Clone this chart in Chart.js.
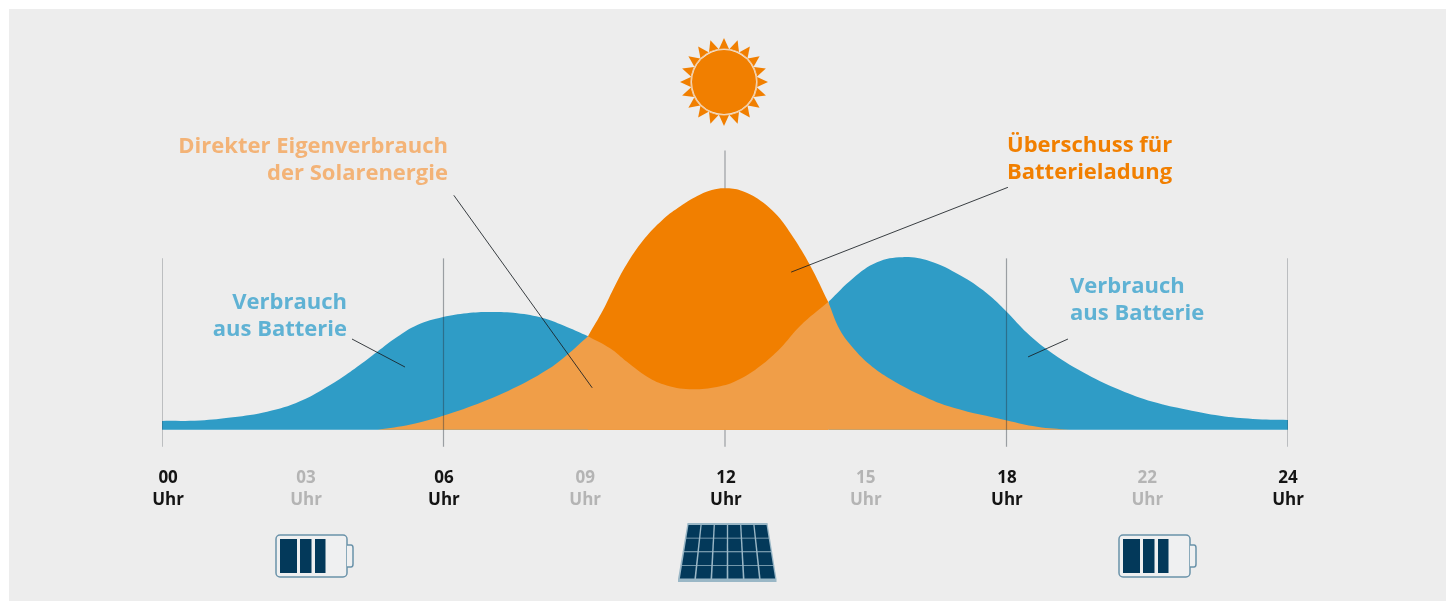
<!DOCTYPE html>
<html lang="de">
<head>
<meta charset="utf-8">
<title>Solarenergie und Batterie im Tagesverlauf</title>
<script src="https://cdn.jsdelivr.net/npm/chart.js@4/dist/chart.umd.min.js"></script>
<style>
  html, body { margin: 0; padding: 0; background: #ffffff; overflow: hidden; }
  #wrap { position: relative; width: 1452px; height: 602px; }
  #panel { position: absolute; left: 9px; top: 9px; width: 1437px; height: 592px; background: #ededed; }
  canvas { position: absolute; left: 0; top: 0; }
</style>
</head>
<body>
<div id="wrap">
  <div id="panel"></div>
  <canvas id="chart" width="1452" height="602"></canvas>
</div>
<script>
// Hour of day against relative power (100 = midday solar peak).
const morningHours  = [0, 0.81, 1.51, 2.24, 2.94, 3.79, 4.22, 4.58, 5.01, 5.44, 5.99, 6.5, 6.99, 7.57, 8.12, 8.63, 9.08];
const morningValues = [3.7, 3.9, 5.2, 7.5, 11.8, 21.1, 26.9, 32.2, 38.4, 43.4, 46.7, 48.3, 48.8, 48.3, 46.3, 42.6, 38.8];

const eveningHours  = [14.2, 14.73, 15.24, 15.79, 16.37, 17.01, 17.58, 18.01, 18.44, 18.99, 19.72, 20.42, 21.12, 21.85, 22.55, 23.25, 24];
const eveningValues = [52.9, 62.8, 69.4, 71.5, 69.8, 64, 56.6, 48.8, 40.1, 31.5, 22.9, 16.5, 11.6, 8.3, 5.8, 4.5, 4.1];

const surplusHours  = [9.08, 9.4, 9.66, 9.93, 10.29, 10.66, 11, 11.36, 11.72, 12.04, 12.38, 12.75, 13.11, 13.45, 13.81, 14.2];
const surplusValues = [38.8, 49.6, 59.9, 69.4, 79.3, 86.8, 91.9, 96.3, 99.3, 100, 98.8, 95, 88.8, 79.8, 68.2, 52.9];

// The peaks at 9.08 h and 14.2 h are listed twice so the curve keeps its sharp corners there.
const directHours  = [4.6, 5.3, 5.99, 6.84, 7.57, 8.27, 8.63, 9.08, 9.08, 9.55, 9.91, 10.34, 10.76, 11.32, 11.9, 12.32, 12.75, 13.18, 13.6, 14.2, 14.2, 14.45, 14.73, 15.09, 15.45, 16.17, 16.87, 18.01, 18.65, 19.35];
const directValues = [0, 2.2, 5.8, 11.6, 17.9, 25.6, 31, 38.8, 38.8, 33.8, 28.2, 22, 18.4, 16.8, 18, 21, 26.4, 33.8, 43, 52.9, 52.9, 41.3, 33.9, 26.9, 21.9, 14.4, 9.1, 3.9, 1.3, 0];

// Hour markers: the line drops slightly below the baseline and rises to markerTops.
const markerHours  = [0, 6, 12, 18, 24];
const markerTops   = [71, 71, 115.7, 71, 71];
const markerBottom = -7;

// Callout leader lines as [hour, value] pairs.
const leaderDirect  = [[6.22, 97.1], [9.17, 17.4]];
const leaderSurplus = [[18.03, 100.4], [13.41, 65.3]];
const leaderMorning = [[4.05, 37.6], [5.18, 26]];
const leaderEvening = [[19.31, 37.6], [18.46, 30.2]];

// Axis labels: text, weight and where each sits on the hour scale.
const tickHours     = ['00', '03', '06', '09', '12', '15', '18', '22', '24'];
const tickPositions = [0.13, 3.07, 6.01, 9.02, 12.02, 15, 18.01, 21, 24];
const tickUnit      = 'Uhr';
const tickStrong    = [true, false, true, false, true, false, true, false, true];

const BLUE = '#2f9cc6', ORANGE = '#f17f00', LIGHT = '#f09e48', NAVY = '#03395a';

const zip = (xs, ys) => xs.map((x, i) => ({ x, y: ys[i] }));
const area = (label, xs, ys, color, order) => ({
  label, data: zip(xs, ys), order,
  backgroundColor: color, borderColor: color, borderWidth: 0,
  fill: 'origin', pointRadius: 0, tension: 0.4
});
const rule = (label, pts, color, width, order) => ({
  label, data: pts, order, borderColor: color, borderWidth: width,
  fill: false, pointRadius: 0, tension: 0
});

const datasets = [
  area('Verbrauch aus Batterie (Morgen)', morningHours, morningValues, BLUE, 5),
  area('Verbrauch aus Batterie (Abend)', eveningHours, eveningValues, BLUE, 5),
  area('Überschuss für Batterieladung', surplusHours, surplusValues, ORANGE, 4),
  area('Direkter Eigenverbrauch', directHours, directValues, LIGHT, 3)
];
markerHours.forEach((h, i) => {
  const pts = [{ x: h, y: markerBottom }, { x: h, y: markerTops[i] }];
  // The midday marker sits behind the solar curve, the others run across the areas.
  datasets.push(rule('Markierung ' + h, pts, 'rgba(40,50,60,0.42)', 1.2, h === 12 ? 6 : 2));
});
[leaderDirect, leaderSurplus, leaderMorning, leaderEvening].forEach((seg, i) => {
  const pts = seg.map(p => ({ x: p[0], y: p[1] }));
  datasets.push(rule('Hinweislinie ' + i, pts, 'rgba(25,30,35,0.85)', 1, 1));
});

// Callout captions, anchored in pixels above the plot.
const captions = [
  { lines: ['Direkter Eigenverbrauch', 'der Solarenergie'], x: 448, y: 147, align: 'right', color: '#f3b377' },
  { lines: ['Überschuss für', 'Batterieladung'], x: 1007, y: 146, align: 'left', color: ORANGE },
  { lines: ['Verbrauch', 'aus Batterie'], x: 347, y: 303, align: 'right', color: '#5fb2d4' },
  { lines: ['Verbrauch', 'aus Batterie'], x: 1070, y: 287, align: 'left', color: '#5fb2d4' }
];

function drawSun(ctx, cx, cy) {
  ctx.fillStyle = ORANGE;
  for (let i = 0; i < 20; i++) {
    const a = i / 20 * Math.PI * 2 - Math.PI / 2, s = 0.15;
    ctx.beginPath();
    ctx.moveTo(cx + Math.cos(a) * 44, cy + Math.sin(a) * 44);
    ctx.lineTo(cx + Math.cos(a - s) * 33.5, cy + Math.sin(a - s) * 33.5);
    ctx.lineTo(cx + Math.cos(a + s) * 33.5, cy + Math.sin(a + s) * 33.5);
    ctx.closePath();
    ctx.fill();
  }
  ctx.beginPath();
  ctx.arc(cx, cy, 33, 0, Math.PI * 2);
  ctx.strokeStyle = '#f6c896';
  ctx.lineWidth = 1.2;
  ctx.stroke();
  ctx.beginPath();
  ctx.arc(cx, cy, 32, 0, Math.PI * 2);
  ctx.fill();
}

function drawBattery(ctx, x, y) {
  ctx.strokeStyle = '#6a92a9';
  ctx.fillStyle = '#eff0f1';
  ctx.lineWidth = 1.5;
  ctx.beginPath();
  ctx.roundRect(x, y, 71, 42, 4);
  ctx.fill();
  ctx.stroke();
  // Terminal cap on the right end.
  ctx.beginPath();
  ctx.moveTo(x + 71, y + 10);
  ctx.lineTo(x + 75, y + 10);
  ctx.quadraticCurveTo(x + 77, y + 10, x + 77, y + 13);
  ctx.lineTo(x + 77, y + 29);
  ctx.quadraticCurveTo(x + 77, y + 32, x + 75, y + 32);
  ctx.lineTo(x + 71, y + 32);
  ctx.fillStyle = '#eff0f1';
  ctx.fill();
  ctx.stroke();
  ctx.fillStyle = NAVY;
  ctx.fillRect(x + 4, y + 4, 17, 34);
  ctx.fillRect(x + 24, y + 4, 11.5, 34);
  ctx.fillRect(x + 39, y + 4, 10.5, 34);
}

function drawPanel(ctx) {
  const topY = 524, botY = 579, rows = 4, cols = 6;
  const edge = (t, y) => {
    const k = (y - topY) / (botY - topY);
    const l = 688 + (679 - 688) * k, r = 767 + (776 - 767) * k;
    return l + (r - l) * t;
  };
  const trapezoid = (t0, t1, y0, y1) => {
    ctx.beginPath();
    ctx.moveTo(edge(t0, y0), y0);
    ctx.lineTo(edge(t1, y0), y0);
    ctx.lineTo(edge(t1, y1), y1);
    ctx.lineTo(edge(t0, y1), y1);
    ctx.closePath();
    ctx.fill();
  };
  ctx.fillStyle = '#9ab7c6';
  ctx.beginPath();
  ctx.moveTo(687.5, 523); ctx.lineTo(767.5, 523);
  ctx.lineTo(776.5, 579); ctx.lineTo(776.5, 582);
  ctx.lineTo(678, 582); ctx.lineTo(678, 579);
  ctx.closePath();
  ctx.fill();
  ctx.fillStyle = NAVY;
  for (let r = 0; r < rows; r++) {
    const y0 = topY + 1 + r * 13.6, y1 = y0 + 12.7;
    for (let c = 0; c < cols; c++) {
      trapezoid((c + 0.05) / cols, (c + 0.95) / cols, y0, y1);
    }
  }
}

const artwork = {
  id: 'artwork',
  afterDraw(chart) {
    const ctx = chart.ctx;
    ctx.save();
    ctx.font = 'bold 22px "Open Sans"';
    ctx.textBaseline = 'middle';
    captions.forEach(c => {
      ctx.textAlign = c.align;
      ctx.fillStyle = c.color;
      c.lines.forEach((line, i) => ctx.fillText(line, c.x, c.y + i * 27));
    });
    drawSun(ctx, 724, 82);
    drawBattery(ctx, 276, 535);
    drawBattery(ctx, 1119, 535);
    drawPanel(ctx);
    ctx.restore();
  }
};

new Chart(document.getElementById('chart'), {
  type: 'line',
  data: { datasets },
  plugins: [artwork],
  options: {
    responsive: false,
    animation: false,
    parsing: false,
    normalized: true,
    layout: { padding: { left: 162, right: 164, top: 140, bottom: 88 } },
    plugins: { legend: { display: false }, tooltip: { enabled: false } },
    scales: {
      x: {
        type: 'linear', min: 0, max: 24,
        afterBuildTicks(axis) {
          axis.ticks = tickPositions.map(value => ({ value }));
        },
        afterFit(axis) { axis.height = 60; },
        border: { display: false },
        grid: { display: false },
        ticks: {
          autoSkip: false, maxRotation: 0, padding: 5,
          font: { family: '"Open Sans"', weight: 'bold', size: 17, lineHeight: 1.3 },
          callback: (v, i) => [tickHours[i], tickUnit],
          color: (c) => tickStrong[c.index] ? '#141414' : '#b4b4b4'
        }
      },
      y: { display: false, min: -10, max: 120 }
    }
  }
});
</script>
</body>
</html>
